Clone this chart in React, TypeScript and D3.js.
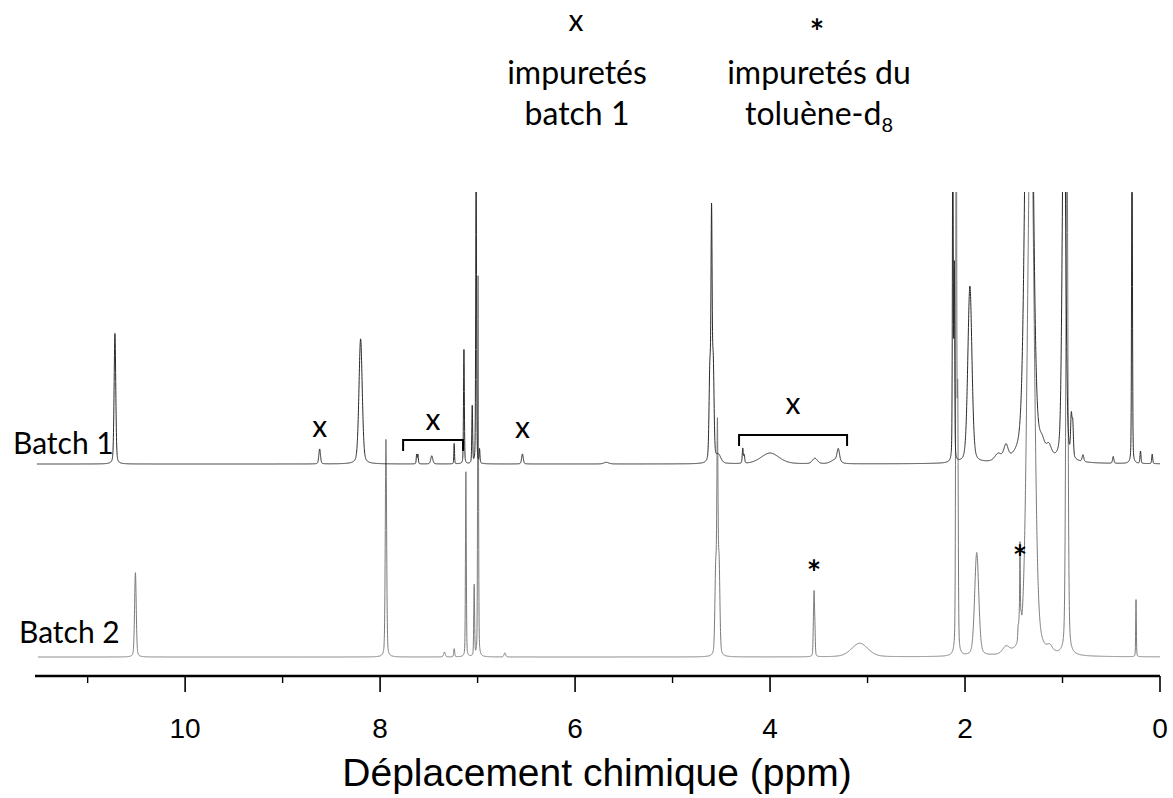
import React, { useMemo } from 'react';
import * as d3 from 'd3';

// ---------- data ----------
// peak tables: [chemical shift (ppm), relative intensity, half width (ppm)]
const batch1Peaks: [number, number, number][] = [
  [10.72, 48, 0.010],
  [8.62, 5.5, 0.010],
  [8.20, 46, 0.020],
  [7.625, 3.5, 0.005],
  [7.612, 3.5, 0.005],
  [7.47, 3, 0.012],
  [7.24, 7.5, 0.004],
  [7.14, 42, 0.005],
  [7.055, 21, 0.005],
  [7.015, 110, 0.005],
  [6.98, 5, 0.005],
  [6.54, 3.7, 0.010],
  [5.68, 0.6, 0.030],
  [4.617, 33, 0.010],
  [4.600, 84, 0.007],
  [4.583, 35, 0.010],
  [4.53, 3, 0.030],
  [4.28, 5.5, 0.006],
  [4.265, 3, 0.006],
  [4.00, 4, 0.110],
  [3.54, 2, 0.030],
  [3.33, 1.5, 0.050],
  [3.30, 4.5, 0.015],
  [2.125, 130, 0.005],
  [2.11, 70, 0.005],
  [1.95, 65, 0.025],
  [1.66, 2.5, 0.040],
  [1.58, 5, 0.025],
  [1.343, 250, 0.040],
  [1.21, 4, 0.030],
  [1.14, 4, 0.030],
  [0.985, 150, 0.020],
  [0.91, 14, 0.008],
  [0.895, 12, 0.008],
  [0.79, 2.5, 0.010],
  [0.48, 2.5, 0.008],
  [0.287, 130, 0.005],
  [0.20, 4.5, 0.006],
  [0.08, 3.5, 0.006],
];

const batch2Peaks: [number, number, number][] = [
  [10.51, 31, 0.010],
  [7.94, 80, 0.008],
  [7.34, 1.8, 0.010],
  [7.24, 3, 0.006],
  [7.12, 68, 0.005],
  [7.035, 26, 0.005],
  [6.995, 140, 0.005],
  [6.72, 1.5, 0.010],
  [4.557, 31, 0.010],
  [4.540, 77, 0.007],
  [4.523, 33, 0.010],
  [3.555, 9, 0.005],
  [3.548, 20, 0.005],
  [3.540, 9, 0.005],
  [3.08, 5, 0.100],
  [2.09, 220, 0.006],
  [2.075, 90, 0.006],
  [1.88, 38, 0.025],
  [1.58, 2.5, 0.040],
  [1.455, 5, 0.005],
  [1.445, 6, 0.005],
  [1.436, 33, 0.004],
  [1.425, 5, 0.005],
  [1.325, 210, 0.040],
  [1.13, 2, 0.030],
  [0.955, 200, 0.012],
  [0.246, 21, 0.004],
];

const seriesNames = ['Batch 1', 'Batch 2'];
const majorTicks = [10, 8, 6, 4, 2, 0];
const minorTicks = [11, 9, 7, 5, 3, 1];
const axisTitle = 'Déplacement chimique (ppm)';
const ppmDomain: [number, number] = [11.54, 0];
const traceStart = [11.52, 11.51];

// impurity markers (ppm)
const batch1SingleMarks = [8.62, 6.54];
const batch1Brackets: [number, number][] = [[7.764, 7.149], [4.318, 3.21]];
const batch2StarMarks = [3.55, 1.436];

// ---------- drawing ----------
const W = 1173;
const H = 798;
const ETA = 0.3;

function shape(peaks: [number, number, number][], ppm: number) {
  let s = 0;
  for (const [c, h, w] of peaks) {
    const r = (ppm - c) / w;
    const r2 = r * r;
    if (r2 > 40000) continue;
    s += h * (ETA / (1 + r2) + (1 - ETA) * Math.exp(-0.693147 * r2));
  }
  return s;
}

function buildTrace(peaks: [number, number, number][], start: number) {
  const pts: [number, number][] = [];
  const n = Math.round(start / 0.001);
  for (let i = 0; i <= n; i++) {
    const p = start - i * 0.001;
    pts.push([p, shape(peaks, p)]);
  }
  return pts;
}

export default function App() {
  const x = d3.scaleLinear().domain(ppmDomain).range([35, 1160]);
  const y1 = d3.scaleLinear().domain([0, 100]).range([464, 192]);
  const y2 = d3.scaleLinear().domain([0, 100]).range([657, 385]);

  const paths = useMemo(() => {
    const t1 = buildTrace(batch1Peaks, traceStart[0]);
    const t2 = buildTrace(batch2Peaks, traceStart[1]);
    const l1 = d3.line<[number, number]>().x((d) => x(d[0])).y((d) => y1(d[1]));
    const l2 = d3.line<[number, number]>().x((d) => x(d[0])).y((d) => y2(d[1]));
    return [l1(t1) || '', l2(t2) || ''];
  }, []);

  const labelFont = 'Lato, "Open Sans", sans-serif';
  const axisFont = '"Liberation Sans", Arial, sans-serif';
  const axisY = 676;

  return (
    <svg
      width={W}
      height={H}
      viewBox={`0 0 ${W} ${H}`}
      style={{ position: 'absolute', left: 0, top: 0, background: '#fff' }}
    >
      <defs>
        <clipPath id="plotClip">
          <rect x={30} y={192} width={1140} height={480} />
        </clipPath>
      </defs>

      {/* spectra */}
      <g clipPath="url(#plotClip)" fill="none">
        <path d={paths[1]} stroke="#7a7a7a" strokeWidth={1} />
        <path d={paths[0]} stroke="#2a2a2a" strokeWidth={1} />
      </g>

      {/* axis */}
      <g stroke="#000">
        <line x1={x(ppmDomain[0])} x2={x(ppmDomain[1])} y1={axisY} y2={axisY} strokeWidth={2.5} />
        {majorTicks.map((t) => (
          <line key={'M' + t} x1={x(t)} x2={x(t)} y1={axisY} y2={axisY + 16} strokeWidth={1.6} />
        ))}
        {minorTicks.map((t) => (
          <line key={'m' + t} x1={x(t)} x2={x(t)} y1={axisY} y2={axisY + 7} strokeWidth={1.4} />
        ))}
      </g>
      <g fontFamily={axisFont} fontSize={28} textAnchor="middle" fill="#000">
        {majorTicks.map((t) => (
          <text key={'t' + t} x={x(t)} y={738}>
            {t}
          </text>
        ))}
      </g>
      <text x={597} y={786} fontFamily={axisFont} fontSize={39} textAnchor="middle" fill="#000">
        {axisTitle}
      </text>

      {/* series labels */}
      <g fontFamily={labelFont} fontSize={30} fill="#000">
        <text x={13} y={454}>{seriesNames[0]}</text>
        <text x={19} y={643}>{seriesNames[1]}</text>
      </g>

      {/* legend at top */}
      <text x={576} y={31} fontFamily={labelFont} fontSize={30} textAnchor="middle" fill="#000">
        x
      </text>
      <g fontFamily={labelFont} fontSize={32} fill="#000" textAnchor="middle">
        <text x={577} y={84}>impuretés</text>
        <text x={577} y={125}>batch 1</text>
        <text x={819} y={84}>impuretés du</text>
        <text x={819} y={125}>
          toluène-d<tspan fontSize={20} dy={7}>8</tspan>
        </text>
      </g>
      <text x={817} y={44} fontFamily={labelFont} fontSize={34} fontWeight="bold" textAnchor="middle" fill="#000">
        *
      </text>

      {/* batch 1 impurity markers */}
      <g fontFamily={labelFont} fontSize={30} fill="#000" textAnchor="middle">
        <text x={x(batch1SingleMarks[0])} y={437}>x</text>
        <text x={x(batch1SingleMarks[1])} y={438}>x</text>
        <text x={(x(batch1Brackets[0][0]) + x(batch1Brackets[0][1])) / 2} y={430}>x</text>
        <text x={(x(batch1Brackets[1][0]) + x(batch1Brackets[1][1])) / 2} y={414}>x</text>
      </g>
      <g fill="none" stroke="#000" strokeWidth={2}>
        <path
          d={`M${x(batch1Brackets[0][0])},451V440H${x(batch1Brackets[0][1])}V451`}
        />
        <path
          d={`M${x(batch1Brackets[1][0])},446V435H${x(batch1Brackets[1][1])}V446`}
        />
      </g>

      {/* batch 2 solvent markers */}
      <g fontFamily={labelFont} fontSize={34} fontWeight="bold" fill="#000" textAnchor="middle">
        <text x={x(batch2StarMarks[0])} y={585}>*</text>
        <text x={x(batch2StarMarks[1])} y={570}>*</text>
      </g>
    </svg>
  );
}
